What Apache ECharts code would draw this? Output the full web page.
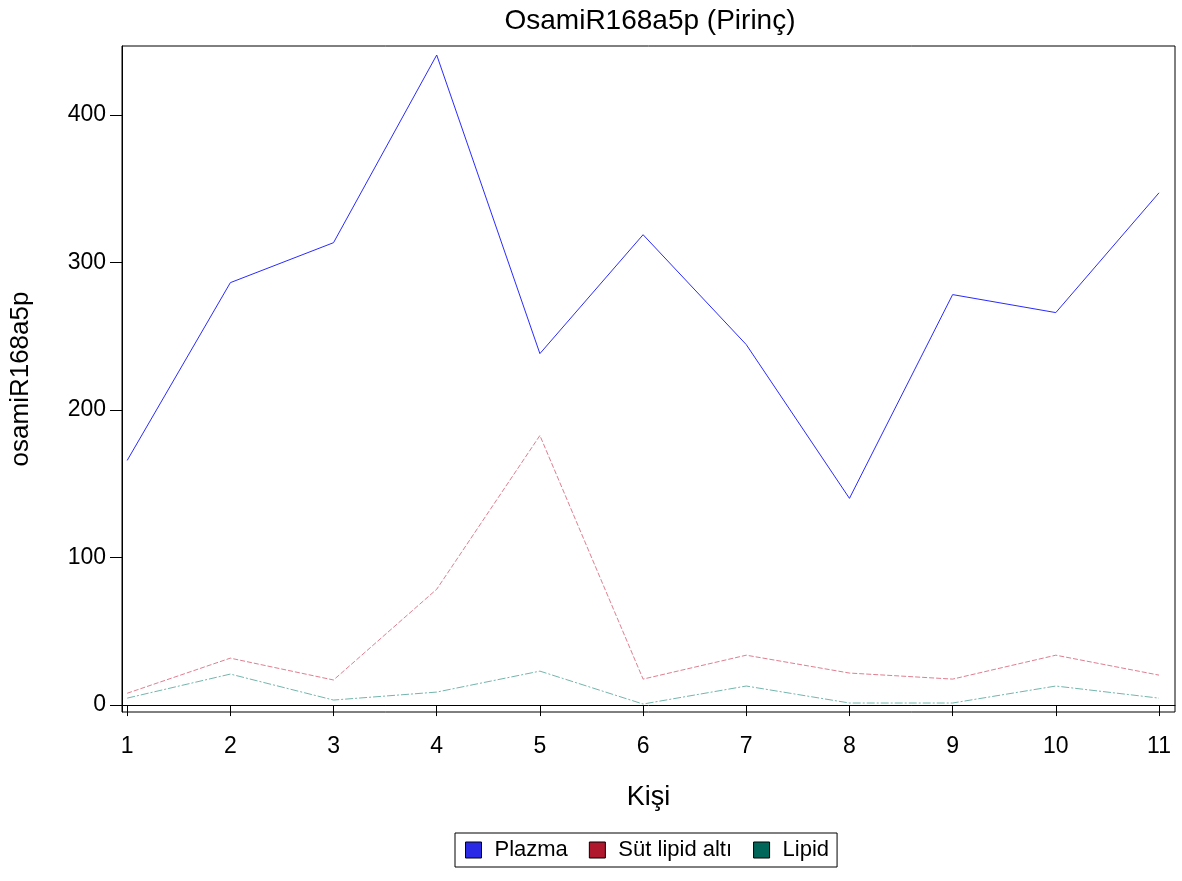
<!DOCTYPE html>
<html><head><meta charset="utf-8">
<script src="https://cdn.jsdelivr.net/npm/echarts@6/dist/echarts.min.js"></script>
<style>html,body{margin:0;padding:0;background:#fff}#c{width:1182px;height:881px}</style>
</head><body><div id="c"></div>
<script>
const persons = [1,2,3,4,5,6,7,8,9,10,11];
const xTicks = [1,2,3,4,5,6,7,8,9,10,11];
const yTicks = [0,100,200,300,400];
const plazma = [165.8,286.3,313.4,440.6,238.2,318.8,244.3,140.1,278.2,266.0,347.2];
const sutLipidAlti = [8.0,31.8,17.0,78.5,182.7,17.6,33.8,21.7,17.6,33.8,20.3];
const lipid = [4.7,21.0,3.4,8.8,23.0,0.7,12.9,1.4,1.4,12.9,4.7];
const seriesNames = ['Plazma','Süt lipid altı','Lipid'];

const font = 'Liberation Sans, Arial, sans-serif';
const narrow = '"Liberation Sans Narrow", "Liberation Sans", Arial, sans-serif';
const pair = (arr) => persons.map((p,i)=>[p,arr[i]]);
const chart = echarts.init(document.getElementById('c'));
chart.setOption({
  animation:false,
  backgroundColor:'#fff',
  title:{text:'OsamiR168a5p (Pirinç)',left:645,top:2,textAlign:'center',
    textStyle:{fontFamily:font,fontSize:28,fontWeight:'normal',color:'#000'}},
  grid:{left:122,right:7,top:46,bottom:169,show:true,borderColor:'#000',borderWidth:1},
  legend:{bottom:14,left:455,icon:'rect',itemWidth:16,itemHeight:16,itemGap:21,
    borderColor:'#000',borderWidth:1,padding:[6,8,6,10],
    textStyle:{fontFamily:font,fontSize:22,color:'#000',padding:[0,0,0,8]},
    data:[
      {name:seriesNames[0],itemStyle:{color:'#2a2ae6',borderColor:'#000',borderWidth:1}},
      {name:seriesNames[1],itemStyle:{color:'#b0182e',borderColor:'#000',borderWidth:1}},
      {name:seriesNames[2],itemStyle:{color:'#00665a',borderColor:'#000',borderWidth:1}}
    ]},
  xAxis:{type:'value',min:0.95,max:11.155,name:'Kişi',nameLocation:'middle',nameGap:72,
    nameTextStyle:{fontFamily:font,fontSize:27,color:'#000'},
    axisLine:{show:true,lineStyle:{color:'#000',width:1}},
    axisTick:{show:true,length:11,customValues:xTicks,lineStyle:{color:'#000'}},
    axisLabel:{customValues:xTicks,margin:23,fontFamily:narrow,fontSize:23,color:'#000'},
    splitLine:{show:false}},
  yAxis:{type:'value',min:-4.7,max:446.7,name:'osamiR168a5p',nameLocation:'middle',nameGap:88,
    nameTextStyle:{fontFamily:font,fontSize:26,color:'#000'},
    axisLine:{show:true,lineStyle:{color:'#000',width:1}},
    axisTick:{show:true,length:12,customValues:yTicks,lineStyle:{color:'#000'}},
    axisLabel:{customValues:yTicks,margin:16,fontFamily:narrow,fontSize:23,color:'#000'},
    splitLine:{show:false}},
  series:[
    {name:seriesNames[0],type:'line',data:pair(plazma),symbol:'none',
      itemStyle:{color:'#2a2ae6'},lineStyle:{color:'#2a2aff',width:1}},
    {name:seriesNames[1],type:'line',data:pair(sutLipidAlti),symbol:'none',
      itemStyle:{color:'#b0182e'},lineStyle:{color:'#d9677d',width:1,type:[5,2],opacity:0.85}},
    {name:seriesNames[2],type:'line',data:pair(lipid),symbol:'none',
      itemStyle:{color:'#00665a'},lineStyle:{color:'#5aa89c',width:1,type:[8,2,2,2],opacity:0.85}}
  ]
});
</script></body></html>
